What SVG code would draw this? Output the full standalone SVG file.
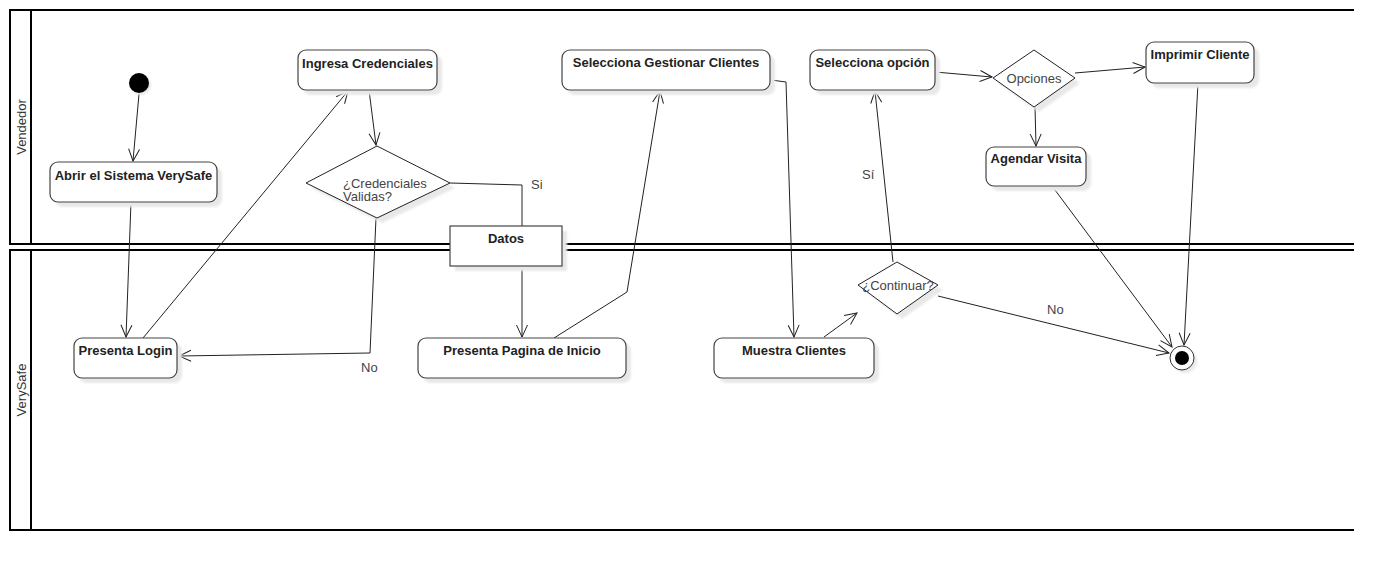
<svg xmlns="http://www.w3.org/2000/svg" width="1394" height="570" viewBox="0 0 1394 570">
  <style>
    .lane { fill: none; stroke: #000; stroke-width: 2; }
    .lanelabel { font-family: "Liberation Sans", Arial, sans-serif; font-size: 13px; fill: #333; }
    .act { fill: #fff; stroke: #444; stroke-width: 1.2; }
    .shadow { fill: #e8e8e8; stroke: none; filter: url(#soft); }
    .dec { fill: #fff; stroke: #222; stroke-width: 1; }
    .title { font-family: "Liberation Sans", Arial, sans-serif; font-size: 13px; font-weight: bold; fill: #222; text-anchor: middle; }
    .dtext { font-family: "Liberation Sans", Arial, sans-serif; font-size: 13px; fill: #444; }
    .guard { font-family: "Liberation Sans", Arial, sans-serif; font-size: 13px; fill: #444; }
    .edge { fill: none; stroke: #222; stroke-width: 1; marker-end: url(#open); }
    .seg { fill: none; stroke: #222; stroke-width: 1; }
  </style>
  <defs>
    <filter id="soft" x="-20%" y="-20%" width="140%" height="140%">
      <feGaussianBlur stdDeviation="1.2"/>
    </filter>
    <marker id="open" viewBox="0 0 14 14" refX="13" refY="7" markerWidth="14" markerHeight="14" markerUnits="userSpaceOnUse" orient="auto">
      <path d="M1,1.5 L13,7 L1,12.5" fill="none" stroke="#222" stroke-width="1"/>
    </marker>
  </defs>

  <rect width="1394" height="570" fill="#fff"/>

  <!-- swimlanes -->
  <g id="lane-vendedor">
    <path class="lane" d="M1354,10 H10 V244 H1354 M31,10 V244"/>
    <text class="lanelabel" transform="translate(26,127) rotate(-90)" text-anchor="middle">Vendedor</text>
  </g>
  <g id="lane-verysafe">
    <path class="lane" d="M1354,250 H10 V530 H1354 M31,250 V530"/>
    <text class="lanelabel" transform="translate(26,390) rotate(-90)" text-anchor="middle">VerySafe</text>
  </g>

  <!-- connectors -->
  <g id="connectors">
    <line class="edge" x1="139" y1="94" x2="133" y2="161"/>
    <line class="edge" x1="131" y1="202" x2="126" y2="337"/>
    <line class="edge" x1="143" y1="338" x2="348" y2="91"/>
    <line class="edge" x1="369" y1="90" x2="376" y2="145"/>
    <polyline class="edge" points="376,218 370,353 179,356"/>
    <polyline class="seg" points="450,183 522,185 522,226"/>
    <line class="edge" x1="522" y1="266" x2="522" y2="337"/>
    <polyline class="edge" points="554,338 627,292 660,91"/>
    <polyline class="edge" points="771,80 786,82 794,337"/>
    <line class="edge" x1="824" y1="337" x2="857" y2="313"/>
    <line class="edge" x1="893" y1="262" x2="875" y2="91"/>
    <line class="edge" x1="938" y1="296" x2="1169" y2="353"/>
    <line class="edge" x1="935" y1="72" x2="992" y2="77"/>
    <line class="edge" x1="1075" y1="73" x2="1145" y2="67"/>
    <line class="edge" x1="1035" y1="107" x2="1036" y2="146"/>
    <line class="edge" x1="1052" y1="186" x2="1172" y2="347"/>
    <line class="edge" x1="1198" y1="83" x2="1184" y2="345"/>
    <text class="guard" x="361" y="372">No</text>
    <text class="guard" x="531" y="189">Si</text>
    <text class="guard" x="862" y="179">Sí</text>
    <text class="guard" x="1047" y="314">No</text>
  </g>

  <!-- initial node -->
  <g id="start">
    <circle cx="141" cy="85" r="10" fill="#e8e8e8" filter="url(#soft)"/>
    <circle cx="139" cy="83" r="10" fill="#000"/>
  </g>

  <g id="abrir">
    <rect class="shadow" x="55" y="167" width="167" height="40" rx="8"/>
    <rect class="act" x="50" y="162" width="167" height="40" rx="8"/>
    <text class="title" x="133.5" y="180">Abrir el Sistema VerySafe</text>
  </g>

  <g id="ingresa">
    <rect class="shadow" x="303" y="55" width="139" height="40" rx="8"/>
    <rect class="act" x="298" y="50" width="139" height="40" rx="8"/>
    <text class="title" x="367.5" y="68">Ingresa Credenciales</text>
  </g>

  <g id="credenciales">
    <polygon class="shadow" points="311,188 382,151 455,188 382,223"/>
    <polygon class="dec" points="306,183 377,146 450,183 377,218"/>
    <text class="dtext" x="343" y="188">¿Credenciales</text>
    <text class="dtext" x="343" y="201">Validas?</text>
  </g>

  <g id="datos">
    <rect class="shadow" x="455" y="231" width="112" height="40"/>
    <rect x="450" y="226" width="112" height="40" fill="#fff" stroke="#444" stroke-width="1.2"/>
    <text class="title" x="506" y="243">Datos</text>
  </g>

  <g id="login">
    <rect class="shadow" x="79" y="343" width="103" height="40" rx="8"/>
    <rect class="act" x="74" y="338" width="103" height="40" rx="8"/>
    <text class="title" x="125.5" y="355">Presenta Login</text>
  </g>

  <g id="inicio">
    <rect class="shadow" x="423" y="343" width="208" height="40" rx="8"/>
    <rect class="act" x="418" y="338" width="208" height="40" rx="8"/>
    <text class="title" x="522" y="355">Presenta Pagina de Inicio</text>
  </g>

  <g id="gestionar">
    <rect class="shadow" x="567" y="55" width="208" height="40" rx="8"/>
    <rect class="act" x="562" y="50" width="208" height="40" rx="8"/>
    <text class="title" x="666" y="67">Selecciona Gestionar Clientes</text>
  </g>

  <g id="muestra">
    <rect class="shadow" x="719" y="343" width="160" height="40" rx="8"/>
    <rect class="act" x="714" y="338" width="160" height="40" rx="8"/>
    <text class="title" x="794" y="355">Muestra Clientes</text>
  </g>

  <g id="continuar">
    <polygon class="shadow" points="863,290 902,267 943,290 902,319"/>
    <polygon class="dec" points="858,285 897,262 938,285 897,314"/>
    <text class="dtext" x="898" y="290" text-anchor="middle">¿Continuar?</text>
  </g>

  <g id="opcion">
    <rect class="shadow" x="815" y="55" width="125" height="40" rx="8"/>
    <rect class="act" x="810" y="50" width="125" height="40" rx="8"/>
    <text class="title" x="872.5" y="67">Selecciona opción</text>
  </g>

  <g id="opciones">
    <polygon class="shadow" points="998,83 1039,55 1080,83 1039,112"/>
    <polygon class="dec" points="993,78 1034,50 1075,78 1034,107"/>
    <text class="dtext" x="1034" y="83" text-anchor="middle">Opciones</text>
  </g>

  <g id="imprimir">
    <rect class="shadow" x="1151" y="47" width="108" height="41" rx="8"/>
    <rect class="act" x="1146" y="42" width="108" height="41" rx="8"/>
    <text class="title" x="1200" y="59">Imprimir Cliente</text>
  </g>

  <g id="agendar">
    <rect class="shadow" x="991" y="152" width="100" height="39" rx="8"/>
    <rect class="act" x="986" y="147" width="100" height="39" rx="8"/>
    <text class="title" x="1036" y="163">Agendar Visita</text>
  </g>

  <!-- final node -->
  <g id="end">
    <circle cx="1185" cy="361" r="12" fill="#e8e8e8" filter="url(#soft)"/>
    <circle cx="1182" cy="358" r="12" fill="#fff" stroke="#333" stroke-width="1"/>
    <circle cx="1182" cy="358" r="7" fill="#000"/>
  </g>
</svg>
